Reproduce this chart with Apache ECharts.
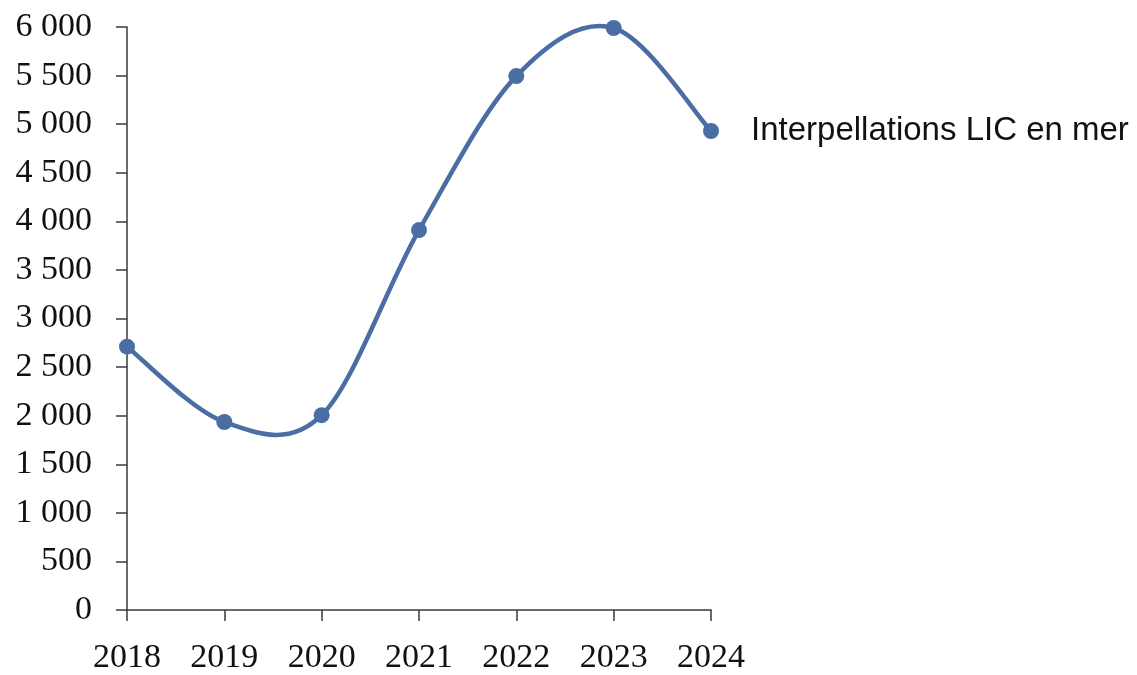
<!DOCTYPE html>
<html>
<head>
<meta charset="utf-8">
<script src="https://cdn.jsdelivr.net/npm/echarts@6/dist/echarts.min.js"></script>
<style>
  html, body { margin: 0; padding: 0; background: #ffffff; }
  #chart { width: 1137px; height: 675px; }
</style>
</head>
<body>
<div id="chart"></div>
<script>
// Years on the horizontal axis
const years = ['2018', '2019', '2020', '2021', '2022', '2023', '2024'];
// Interpellations per year
const interpellations = [2710, 1935, 2005, 3910, 5495, 5990, 4930];
const seriesName = 'Interpellations LIC en mer';

const lineColor = '#4a6ea3';
const axisColor = '#3a3a3a';

const chart = echarts.init(document.getElementById('chart'));

// French thousands separator: "6 000"
const fmt = v => String(v).replace(/\B(?=(\d{3})+(?!\d))/g, ' ');

// Smoothed curve: one cubic Bezier per segment, tangents taken from the
// neighbouring points (Catmull-Rom style), all positions via the axis scales.
function renderSegment(params, api) {
  const i = params.dataIndex;
  const n = interpellations.length;
  if (i >= n - 1) return null;
  const pt = k => {
    const j = Math.max(0, Math.min(n - 1, k));
    return api.coord([j, interpellations[j]]);
  };
  const p0 = pt(i - 1), p1 = pt(i), p2 = pt(i + 1), p3 = pt(i + 2);
  const t = 1 / 6;
  return {
    type: 'bezierCurve',
    shape: {
      x1: p1[0], y1: p1[1],
      x2: p2[0], y2: p2[1],
      cpx1: p1[0] + (p2[0] - p0[0]) * t, cpy1: p1[1] + (p2[1] - p0[1]) * t,
      cpx2: p2[0] - (p3[0] - p1[0]) * t, cpy2: p2[1] - (p3[1] - p1[1]) * t
    },
    style: { stroke: lineColor, lineWidth: 4.5, fill: null, lineCap: 'round' }
  };
}

chart.setOption({
  animation: false,
  grid: { left: 127, right: 426, top: 27, bottom: 65, containLabel: false },
  xAxis: {
    type: 'category',
    data: years,
    boundaryGap: false,
    axisLine: { lineStyle: { color: axisColor, width: 1.5 } },
    axisTick: { show: true, length: 11, alignWithLabel: true, lineStyle: { color: axisColor, width: 1.5 } },
    axisLabel: {
      color: '#111', fontFamily: 'Liberation Serif', fontSize: 34, margin: 31,
      interval: 0
    },
    splitLine: { show: false }
  },
  yAxis: {
    type: 'value',
    min: 0, max: 6000, interval: 500,
    axisLine: { show: true, lineStyle: { color: axisColor, width: 1.5 } },
    axisTick: { show: true, length: 11, lineStyle: { color: axisColor, width: 1.5 } },
    axisLabel: {
      color: '#111', fontFamily: 'Liberation Serif', fontSize: 34, margin: 35,
      formatter: fmt
    },
    splitLine: { show: false }
  },
  series: [{
    type: 'custom',
    silent: true,
    z: 2,
    renderItem: renderSegment,
    data: interpellations.map((v, i) => [i, v]),
    encode: { x: 0, y: 1 }
  }, {
    name: seriesName,
    type: 'line',
    z: 3,
    data: interpellations,
    symbol: 'circle',
    symbolSize: 16,
    lineStyle: { color: lineColor, width: 0 },
    itemStyle: { color: lineColor },
    endLabel: {
      show: true,
      formatter: '{a}',
      distance: 40,
      color: '#111',
      fontFamily: 'Liberation Sans',
      fontSize: 33
    }
  }]
});
</script>
</body>
</html>
